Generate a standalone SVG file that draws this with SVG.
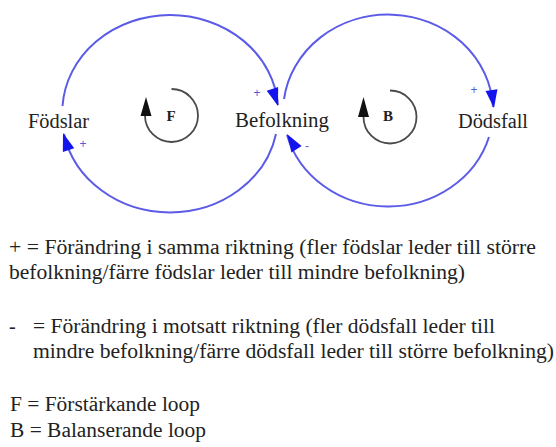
<svg xmlns="http://www.w3.org/2000/svg" xmlns:xlink="http://www.w3.org/1999/xlink" width="556" height="447" viewBox="0 0 556 447">
  <style>
    .link { fill: none; stroke: #5b5be8; stroke-width: 2; }
    .head { fill: #1414ee; }
    .node { font-family: "Liberation Serif", "Times New Roman", serif; font-size: 20px; fill: #222; }
    .sign { font-family: "Liberation Sans", Arial, sans-serif; font-size: 12px; fill: #5a5ad8; text-anchor: middle; }
    .loop { fill: none; stroke: #4a4a4a; stroke-width: 1.8; }
    .loophead { fill: #111; }
    .loopname { font-family: "Liberation Serif", "Times New Roman", serif; font-size: 15px; font-weight: bold; fill: #222; text-anchor: middle; }
    .legend { font-family: "Liberation Serif", "Times New Roman", serif; font-size: 20px; fill: #222; }
  </style>
  <defs>
    <path id="ah" d="M0,0 L-18,-6 L-18,6 Z"/>
  </defs>
  <rect width="556" height="447" fill="#fff"/>

  <g id="connectors">
    <path class="link" d="M62.5,106 A108,97 0 0 1 278,105"/>
    <use xlink:href="#ah" class="head" transform="translate(278,106) rotate(72)"/>
    <path class="link" d="M276,134 A108,97 0 0 1 64,134"/>
    <use xlink:href="#ah" class="head" transform="translate(63,133) rotate(-108)"/>
    <path class="link" d="M284,99 A105,97 0 0 1 493,107"/>
    <use xlink:href="#ah" class="head" transform="translate(494,108) rotate(82)"/>
    <path class="link" d="M489,137 A105,97 0 0 1 287,135"/>
    <use xlink:href="#ah" class="head" transform="translate(287,134) rotate(-122)"/>
    <text class="sign" x="257" y="97">+</text>
    <text class="sign" x="83" y="148">+</text>
    <text class="sign" x="307" y="150">-</text>
    <text class="sign" x="474" y="94">+</text>
  </g>

  <g id="fodslar">
    <text class="node" x="28" y="128" textLength="61" lengthAdjust="spacingAndGlyphs">Födslar</text>
  </g>
  <g id="befolkning">
    <text class="node" x="235" y="127" textLength="94" lengthAdjust="spacingAndGlyphs">Befolkning</text>
  </g>
  <g id="dodsfall">
    <text class="node" x="458" y="128" textLength="70" lengthAdjust="spacingAndGlyphs">Dödsfall</text>
  </g>

  <g id="loop-F">
    <path class="loop" d="M171.5,89 A26.5,26.5 0 1 1 145,115.5"/>
    <polygon class="loophead" points="146,97 140.5,116 151.5,116"/>
    <text class="loopname" x="171" y="121">F</text>
  </g>
  <g id="loop-B">
    <path class="loop" d="M390,90.5 A26.5,26.5 0 1 1 363.5,117"/>
    <polygon class="loophead" points="363.5,97 358,117 369,117"/>
    <text class="loopname" x="388" y="121">B</text>
  </g>

  <g id="legend">
    <text class="legend" x="9" y="254" textLength="527" lengthAdjust="spacingAndGlyphs">+ = Förändring i samma riktning (fler födslar leder till större</text>
    <text class="legend" x="9" y="279" textLength="456" lengthAdjust="spacingAndGlyphs">befolkning/färre födslar leder till mindre befolkning)</text>
    <text class="legend" y="333"><tspan x="9">-</tspan><tspan x="33" textLength="462" lengthAdjust="spacingAndGlyphs">= Förändring i motsatt riktning (fler dödsfall leder till</tspan></text>
    <text class="legend" x="33" y="358" textLength="521" lengthAdjust="spacingAndGlyphs">mindre befolkning/färre dödsfall leder till större befolkning)</text>
    <text class="legend" x="10" y="411" textLength="190" lengthAdjust="spacingAndGlyphs">F = Förstärkande loop</text>
    <text class="legend" x="10" y="437" textLength="196" lengthAdjust="spacingAndGlyphs">B = Balanserande loop</text>
  </g>
</svg>
